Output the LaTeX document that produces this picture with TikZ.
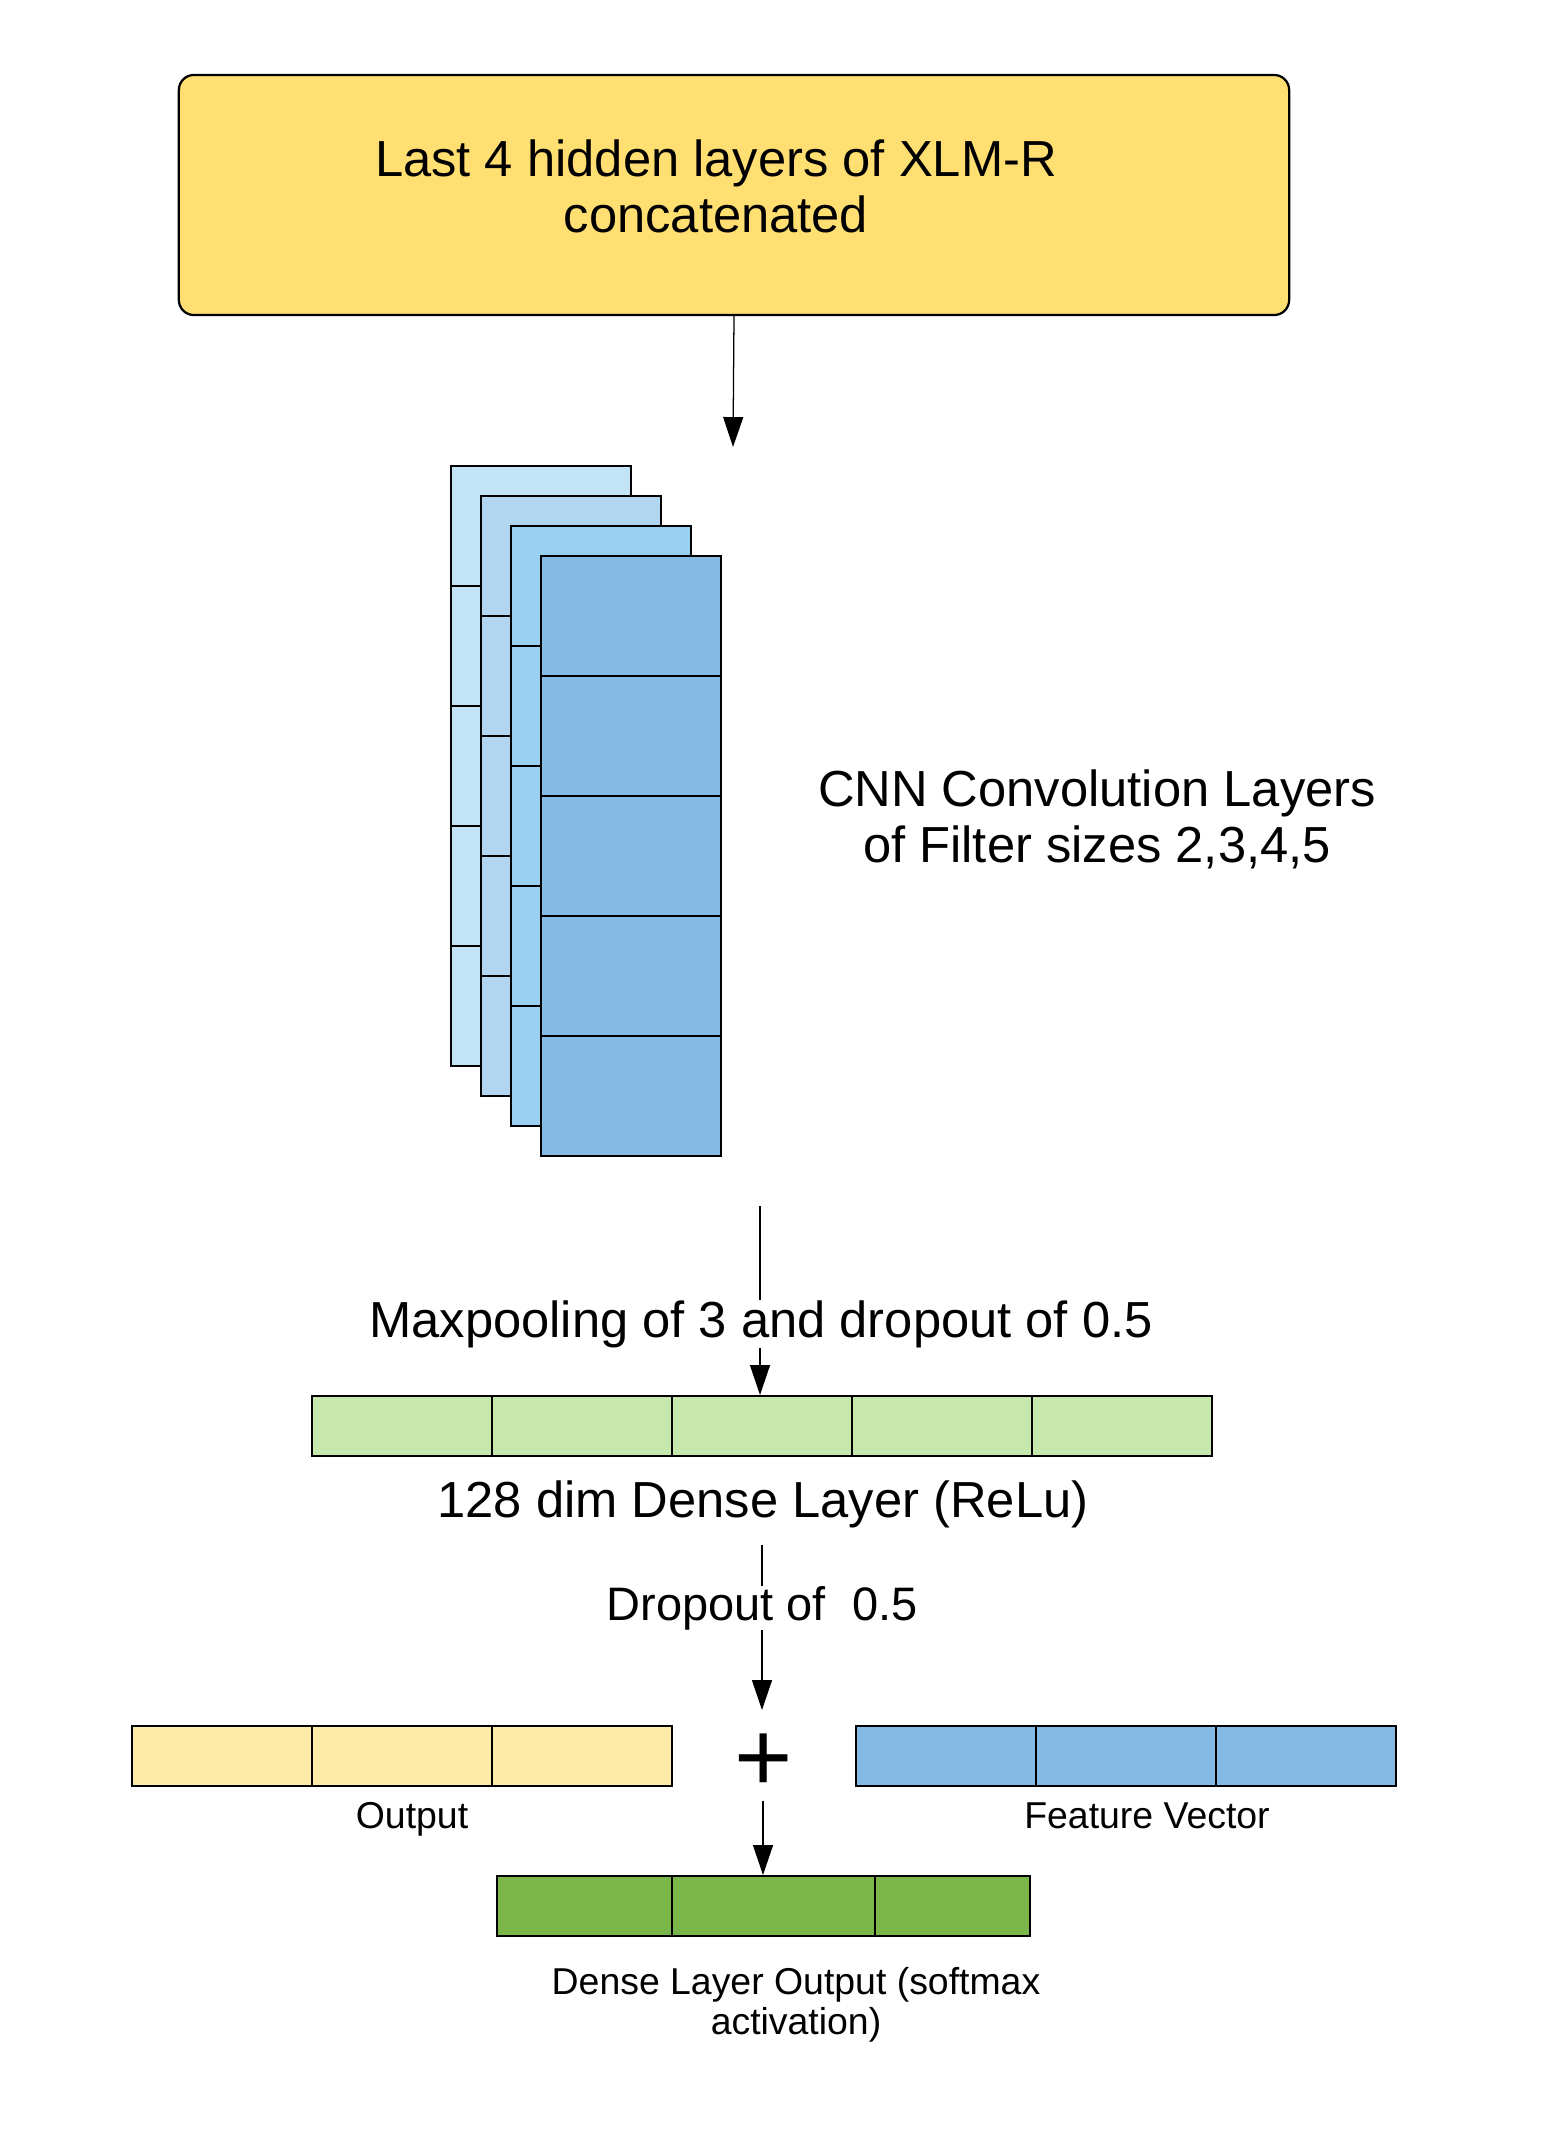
\documentclass[tikz,border=0pt]{standalone}
\usepackage{fontspec}
\usepackage{xcolor}
\setmainfont{Liberation Sans}
\usetikzlibrary{arrows.meta}
\definecolor{diagink}{HTML}{000000}
\definecolor{xlmrfill}{HTML}{FFDF71}
\definecolor{convA}{HTML}{C3E4F6}
\definecolor{convB}{HTML}{B2D6F0}
\definecolor{convC}{HTML}{9AD1F2}
\definecolor{convD}{HTML}{84BAE3}
\definecolor{densefill}{HTML}{C7E8AC}
\definecolor{outputfill}{HTML}{FEEBA8}
\definecolor{featurefill}{HTML}{84BAE3}
\definecolor{softfill}{HTML}{7AB648}
\newcommand{\bigtext}{\fontsize{36.05pt}{39.8pt}\selectfont}
\newcommand{\droptext}{\fontsize{33.4pt}{38pt}\selectfont}
\newcommand{\smalltext}{\fontsize{26.6pt}{28.5pt}\selectfont}
\newcommand{\plustext}{\fontsize{71pt}{80pt}\selectfont}

\begin{document}
\begin{tikzpicture}[
  x=0.025cm,
  y=-0.025cm,
  every node/.style={diagink},
  xlmrbox/.style={draw=diagink, fill=xlmrfill, line width=1.6pt,
                  rounded corners=0.375cm, minimum width=27.75cm,
                  minimum height=6cm, inner sep=0pt},
  cell/.style={draw=diagink, line width=1.4pt, inner sep=0pt,
               minimum width=4.5cm, minimum height=1.5cm, anchor=north west},
  convcell/.style={cell, minimum height=3cm},
  flow/.style={diagink, line width=0.9pt,
               -{Triangle[length=21.3pt, width=14.2pt]}},
  bigcap/.style={font=\bigtext, inner sep=0pt, anchor=base},
  smallcap/.style={font=\smalltext, inner sep=0pt, anchor=base}
]
  \useasboundingbox (0,0) rectangle (1560,2130);

  %% ---- input block -------------------------------------------------------
  \node[xlmrbox] (xlmr) at (734,195) {};
  \node[font=\bigtext, align=center, inner sep=0pt] (xlmrtext) at (716,186)
    {Last 4 hidden layers of XLM-R\\concatenated};

  \coordinate (convtop) at (733,447);
  \draw[flow] (xlmr.south) -- (convtop);

  %% ---- four stacked convolution maps, five cells each ------------------
  \foreach \k/\col in {1/convA,2/convB,3/convC,4/convD}
    \foreach \r in {0,...,4}
      \node[convcell, fill=\col] (conv\k-\r)
        at ({450+30*(\k-1)},{465+30*(\k-1)+120*\r}) {};

  \node[font=\bigtext, align=center, inner sep=0pt] (convtext) at (1097,819)
    {CNN Convolution Layers\\of Filter sizes 2,3,4,5};

  %% ---- pooling and 128 dim dense layer ---------------------------------
  \foreach \i in {1,...,5}
    \node[cell, fill=densefill] (dense\i) at ({311+180*(\i-1)},1395) {};

  \coordinate (poolstart) at (760,1206);
  \draw[flow] (poolstart) -- (poolstart |- dense3.north);
  \node[bigcap, fill=white] (pooltext) at (761,1337)
    {Maxpooling of 3 and dropout of 0.5};
  \node[bigcap] (densetext) at (763,1517) {128 dim Dense Layer (ReLu)};

  %% ---- dropout, then output + feature vector ----------------------------
  \coordinate (dropstart) at (762,1545);
  \coordinate (dropend) at (762,1710);
  \draw[flow] (dropstart) -- (dropend);
  \node[font=\droptext, inner sep=0pt, anchor=base, fill=white] (droptext)
    at (762,1620) {Dropout of\ \ 0.5};

  \foreach \i in {1,2,3}
    \node[cell, fill=outputfill] (out\i) at ({131+180*(\i-1)},1725) {};
  \foreach \i in {1,2,3}
    \node[cell, fill=featurefill] (feat\i) at ({855+180*(\i-1)},1725) {};

  \node[font=\plustext, inner sep=0pt, anchor=base] (plus) at (764,1791) {+};
  \node[smallcap] (outtext) at (412,1828) {Output};
  \node[smallcap] (feattext) at (1147,1828) {Feature Vector};

  %% ---- softmax dense layer -----------------------------------------------
  \node[cell, fill=softfill, minimum width=4.375cm] (soft1) at (496,1875) {};
  \node[cell, fill=softfill, minimum width=5.075cm] (soft2) at (671,1875) {};
  \node[cell, fill=softfill, minimum width=3.875cm] (soft3) at (874,1875) {};

  \coordinate (sumfoot) at (763,1801);
  \draw[flow] (sumfoot) -- (sumfoot |- soft2.north);

  \node[font=\smalltext, align=center, inner sep=0pt] (softtext) at (796,2005)
    {Dense Layer Output (softmax\\activation)};
\end{tikzpicture}
\end{document}
